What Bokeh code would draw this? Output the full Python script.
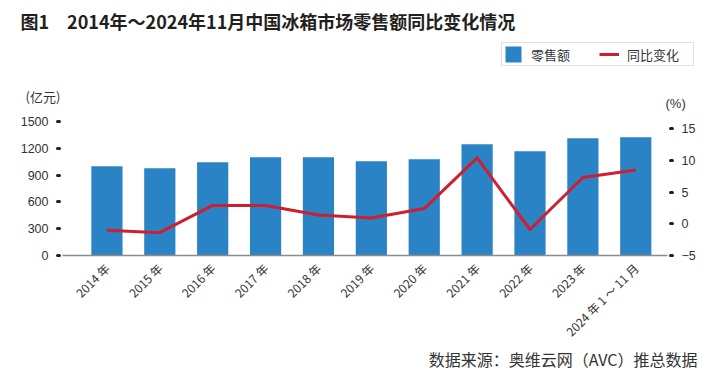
import math
from bokeh.plotting import figure
from bokeh.layouts import column
from bokeh.models import (Range1d, LinearAxis, FixedTicker, Label, Legend, LegendItem)
from bokeh.embed import file_html
from bokeh.resources import INLINE

categories = ["2014 年", "2015 年", "2016 年", "2017 年", "2018 年", "2019 年",
              "2020 年", "2021 年", "2022 年", "2023 年", "2024 年 1 ～ 11 月"]
sales = [1000, 978, 1045, 1100, 1100, 1056, 1078, 1246, 1168, 1313, 1325]
yoy = [-1.0, -1.4, 2.9, 2.9, 1.4, 0.9, 2.4, 10.4, -0.9, 7.3, 8.5]
left_ticks = [0, 300, 600, 900, 1200, 1500]
right_ticks = [-5, 0, 5, 10, 15]
right_labels = {-5: "−5", 0: "0", 5: "5", 10: "10", 15: "15"}
series_names = ["零售额", "同比变化"]
title_text = "图1　2014年～2024年11月中国冰箱市场零售额同比变化情况"
source_text = "数据来源：奥维云网（AVC）推总数据"

xs = list(range(len(categories)))

BLUE = "#2a83c5"
RED = "#cf1f2e"
TXT = "#333333"
NUM_FONT = "Liberation Sans"
CJK = "Noto Sans CJK SC"
W = 704


def blank(height):
    f = figure(width=W, height=height, output_backend="svg", toolbar_location=None,
               x_range=Range1d(0, W), y_range=Range1d(height, 0),
               x_axis_type=None, y_axis_type=None, frame_align=False,
               min_border=0, min_border_left=0, min_border_right=0,
               min_border_top=0, min_border_bottom=0, outline_line_color=None)
    f.xgrid.visible = False
    f.ygrid.visible = False
    return f


# ---------- header: title, legend, axis units ----------
top = blank(112)
top.add_layout(Label(x=20, y=20, text=title_text, text_font=CJK,
                     text_font_size="18px", text_font_style="bold",
                     text_color="#231f20", text_baseline="middle"))
top.add_layout(Label(x=25, y=96, text="(亿元)", text_font=CJK,
                     text_font_size="13px", text_color=TXT, text_baseline="middle"))
top.add_layout(Label(x=665, y=103, text="(%)", text_font=NUM_FONT,
                     text_font_size="13px", text_color=TXT, text_baseline="middle"))
# hidden copies of the series, used only to draw the legend keys
key_bar = top.vbar(x=xs, top=sales, width=0.59, color=BLUE, line_color=None,
                   visible=False)
key_line = top.line(x=xs, y=yoy, line_color=RED, line_width=3, visible=False)
legend = Legend(items=[LegendItem(label=series_names[0], renderers=[key_bar]),
                       LegendItem(label=series_names[1] + "　", renderers=[key_line])],
                orientation="horizontal", location=(501, 46),
                label_text_font=CJK, label_text_font_size="13px",
                label_text_color=TXT, label_text_baseline="middle",
                glyph_width=20, glyph_height=20, label_height=20,
                spacing=29, padding=1, margin=0, label_standoff=8,
                border_line_color="#c4c4c4", border_line_width=1,
                background_fill_color="white", inactive_fill_alpha=0)
top.add_layout(legend, "center")

# ---------- main chart ----------
p = figure(width=W, height=236, output_backend="svg", toolbar_location=None,
           x_range=Range1d(-0.84, 10.6), y_range=Range1d(0, 1500),
           min_border_left=62, min_border_right=37, min_border_top=9,
           min_border_bottom=93, outline_line_color=None, frame_align=False)
p.xgrid.visible = False
p.ygrid.visible = False
p.extra_y_ranges = {"pct": Range1d(-5, -5 + 134 / 6.34)}

p.vbar(x=xs, top=sales, width=0.59, color=BLUE, line_color=None)
p.line(x=xs, y=yoy, y_range_name="pct", line_color=RED, line_width=3,
       line_join="round")

xa = p.xaxis[0]
xa.ticker = FixedTicker(ticks=xs)
xa.major_label_overrides = {i: c for i, c in zip(xs, categories)}
xa.major_label_orientation = math.pi / 4
xa.major_tick_line_color = None
xa.minor_tick_line_color = None
xa.axis_line_color = "#8c8c8c"
xa.axis_line_width = 1.5
xa.major_label_text_font = CJK
xa.major_label_text_font_size = "12px"
xa.major_label_text_color = TXT
xa.major_label_standoff = 4


def style_y(ax):
    ax.axis_line_color = None
    ax.minor_tick_line_color = None
    ax.major_tick_in = -3
    ax.major_tick_out = 5
    ax.major_tick_line_width = 3
    ax.major_tick_line_color = "#222222"
    ax.major_tick_line_cap = "round"
    ax.major_label_standoff = 9
    ax.major_label_text_font = NUM_FONT
    ax.major_label_text_font_size = "12.5px"
    ax.major_label_text_color = TXT


ya = p.yaxis[0]
ya.ticker = FixedTicker(ticks=left_ticks)
style_y(ya)

ra = LinearAxis(y_range_name="pct", ticker=FixedTicker(ticks=right_ticks))
ra.major_label_overrides = right_labels
style_y(ra)
p.add_layout(ra, "right")

# ---------- footer: source ----------
bottom = blank(26)
bottom.add_layout(Label(x=697, y=10, text=source_text, text_font=CJK,
                        text_font_size="16px", text_color=TXT,
                        text_align="right", text_baseline="middle"))

layout = column(top, p, bottom, spacing=0)
open("out.html", "w").write(file_html(layout, INLINE))
